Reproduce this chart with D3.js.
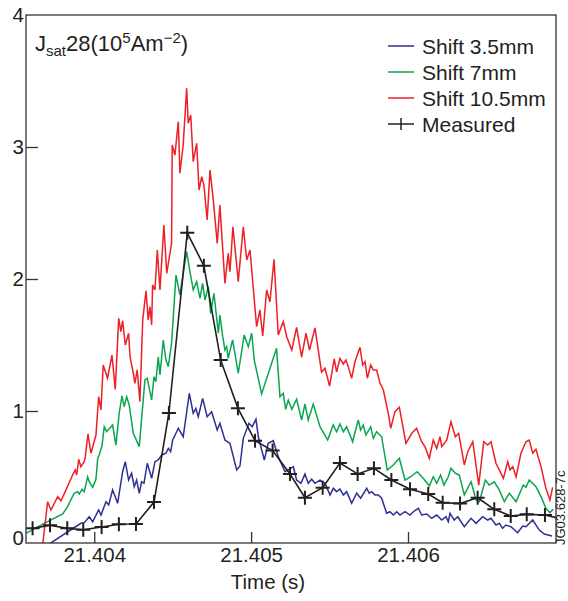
<!DOCTYPE html>
<html><head><meta charset="utf-8">
<script src="https://cdn.jsdelivr.net/npm/d3@7/dist/d3.min.js"></script>
<style>
html,body{margin:0;padding:0;background:#fff;}
svg text{font-family:"Liberation Sans",Arial,Helvetica,sans-serif;fill:#231f20;}
</style></head>
<body>
<svg id="chart" width="568" height="601"></svg>
<script>
// ---- data ----
const xTicks = [21.404, 21.405, 21.406];
const yTicks = [0, 1, 2, 3, 4];
const seriesNames = ["Shift 3.5mm", "Shift 7mm", "Shift 10.5mm", "Measured"];

const redT = [21.403671,21.403703,21.403724,21.403767,21.403788,21.403820,21.403862,21.403879,21.403888,21.403901,21.403915,21.403936,21.403943,21.403960,21.403979,21.404011,21.404028,21.404043,21.404057,21.404085,21.404113,21.404134,21.404156,21.404170,21.404181,21.404198,21.404219,21.404228,21.404249,21.404259,21.404274,21.404291,21.404309,21.404330,21.404344,21.404355,21.404366,21.404372,21.404387,21.404402,21.404419,21.404444,21.404462,21.404493,21.404497,21.404514,21.404536,21.404546,21.404567,21.404589,21.404599,21.404615,21.404631,21.404653,21.404668,21.404685,21.404699,21.404720,21.404738,21.404759,21.404784,21.404801,21.404833,21.404854,21.404865,21.404884,21.404918,21.404950,21.404972,21.404993,21.405035,21.405056,21.405074,21.405099,21.405120,21.405146,21.405173,21.405205,21.405227,21.405259,21.405290,21.405322,21.405350,21.405372,21.405407,21.405449,21.405471,21.405500,21.405530,21.405545,21.405566,21.405588,21.405605,21.405619,21.405641,21.405662,21.405694,21.405711,21.405726,21.405741,21.405762,21.405779,21.405800,21.405821,21.405843,21.405874,21.405890,21.405917,21.405945,21.405987,21.406024,21.406055,21.406087,21.406108,21.406136,21.406161,21.406183,21.406204,21.406215,21.406247,21.406274,21.406302,21.406323,21.406359,21.406381,21.406413,21.406451,21.406483,21.406508,21.406529,21.406561,21.406608,21.406636,21.406650,21.406668,21.406689,21.406720,21.406752,21.406773,21.406795,21.406816,21.406848,21.406879,21.406905,21.406922];
const redV = [-0.015,0.313,0.25,0.351,0.320,0.402,0.515,0.553,0.515,0.634,0.578,0.616,0.654,0.826,0.680,0.818,1.108,1.008,1.348,1.248,1.424,1.164,1.702,1.601,1.684,1.5,1.589,1.411,1.286,1.210,1.311,1.070,1.689,1.911,1.689,1.790,1.652,1.955,1.917,2.220,1.917,2.409,2.043,2.270,3.015,2.939,3.192,2.801,3.015,3.445,3.180,3.242,2.889,3.028,2.674,2.775,2.712,2.447,2.826,2.598,2.270,2.561,1.967,2.195,2.055,2.396,1.980,2.396,2.144,2.220,1.639,1.765,1.568,1.917,1.828,2.149,1.576,1.677,1.563,1.462,1.634,1.409,1.589,1.462,1.629,1.295,1.323,1.189,1.394,1.295,1.399,1.356,1.386,1.336,1.248,1.373,1.483,1.348,1.373,1.248,1.348,1.311,1.311,1.214,1.159,0.983,0.869,0.995,1.028,0.755,0.831,0.869,0.767,0.730,0.642,0.780,0.717,0.805,0.730,0.780,0.919,0.805,0.831,0.591,0.692,0.767,0.439,0.767,0.742,0.767,0.604,0.490,0.616,0.553,0.578,0.502,0.680,0.767,0.780,0.680,0.710,0.578,0.414,0.326,0.422];

const greenT = [21.403565,21.403681,21.403799,21.403830,21.403872,21.403894,21.403904,21.403922,21.403936,21.403958,21.403968,21.403990,21.404011,21.404022,21.404032,21.404049,21.404064,21.404079,21.404117,21.404138,21.404159,21.404177,21.404191,21.404207,21.404223,21.404249,21.404287,21.404323,21.404338,21.404366,21.404381,21.404393,21.404408,21.404419,21.404440,21.404457,21.404472,21.404493,21.404521,21.404546,21.404589,21.404610,21.404631,21.404653,21.404674,21.404691,21.404706,21.404727,21.404742,21.404763,21.404791,21.404801,21.404819,21.404833,21.404844,21.404854,21.404882,21.404918,21.404956,21.404982,21.405004,21.405020,21.405067,21.405162,21.405184,21.405205,21.405220,21.405237,21.405259,21.405290,21.405322,21.405343,21.405364,21.405396,21.405439,21.405488,21.405523,21.405545,21.405566,21.405588,21.405609,21.405647,21.405683,21.405698,21.405715,21.405732,21.405762,21.405779,21.405800,21.405832,21.405868,21.405906,21.405945,21.405981,21.406017,21.406059,21.406097,21.406136,21.406161,21.406183,21.406208,21.406229,21.406257,21.406274,21.406302,21.406327,21.406359,21.406402,21.406434,21.406455,21.406493,21.406518,21.406550,21.406582,21.406614,21.406646,21.406689,21.406735,21.406752,21.406773,21.406816,21.406848,21.406879,21.406905,21.406926];
const greenV = [0.073,0.149,0.220,0.275,0.377,0.389,0.371,0.407,0.389,0.502,0.464,0.422,0.483,0.642,0.667,0.735,0.881,0.843,0.894,0.742,0.983,1.114,1.033,1.108,1.045,0.831,0.730,1.235,1.248,1.083,1.260,1.222,1.411,1.273,1.538,1.386,1.336,1.513,2.030,1.879,2.207,2.055,1.917,1.980,1.854,1.967,1.841,1.942,1.740,1.892,1.589,1.727,1.563,1.462,1.487,1.399,1.538,1.286,1.576,1.487,1.589,1.386,1.129,1.475,1.108,1.134,1.013,1.083,1.013,1.089,0.932,1.053,0.932,1.053,0.881,0.780,0.894,0.843,0.902,0.843,0.881,0.767,0.932,0.856,0.894,0.818,0.881,0.793,0.843,0.805,0.553,0.591,0.642,0.477,0.502,0.540,0.490,0.432,0.502,0.452,0.515,0.439,0.502,0.566,0.528,0.515,0.364,0.464,0.326,0.313,0.477,0.439,0.464,0.402,0.313,0.377,0.313,0.439,0.422,0.477,0.427,0.351,0.263,0.230,0.255];

const blueT = [21.403703,21.403915,21.403936,21.403968,21.403990,21.404028,21.404043,21.404075,21.404092,21.404117,21.404134,21.404149,21.404181,21.404198,21.404219,21.404238,21.404255,21.404270,21.404287,21.404302,21.404317,21.404338,21.404366,21.404387,21.404408,21.404430,21.404457,21.404472,21.404487,21.404500,21.404536,21.404567,21.404606,21.404631,21.404648,21.404663,21.404691,21.404720,21.404748,21.404784,21.404801,21.404833,21.404865,21.404908,21.404929,21.404950,21.404986,21.405007,21.405031,21.405046,21.405084,21.405109,21.405141,21.405173,21.405216,21.405241,21.405269,21.405290,21.405318,21.405343,21.405364,21.405386,21.405407,21.405439,21.405471,21.405503,21.405524,21.405545,21.405566,21.405588,21.405609,21.405641,21.405673,21.405698,21.405737,21.405753,21.405769,21.405790,21.405811,21.405832,21.405864,21.405885,21.405906,21.405928,21.405949,21.405981,21.406013,21.406034,21.406066,21.406087,21.406119,21.406151,21.406183,21.406215,21.406242,21.406257,21.406268,21.406295,21.406317,21.406359,21.406402,21.406434,21.406476,21.406508,21.406529,21.406561,21.406582,21.406603,21.406624,21.406656,21.406699,21.406731,21.406752,21.406795,21.406837,21.406869,21.406918];
const blueV = [-0.015,0.149,0.154,0.199,0.161,0.25,0.212,0.313,0.288,0.402,0.351,0.301,0.540,0.616,0.477,0.528,0.427,0.477,0.377,0.464,0.452,0.604,0.490,0.616,0.629,0.667,0.680,0.717,0.692,0.780,0.869,0.805,1.134,0.983,1.020,0.957,1.096,0.957,0.995,0.856,0.907,0.780,0.755,0.553,0.583,0.793,0.907,0.881,0.937,0.805,0.629,0.755,0.775,0.654,0.540,0.558,0.578,0.477,0.452,0.523,0.452,0.483,0.452,0.477,0.452,0.364,0.414,0.389,0.409,0.364,0.389,0.301,0.377,0.339,0.414,0.377,0.389,0.364,0.364,0.339,0.225,0.237,0.212,0.237,0.212,0.237,0.212,0.237,0.263,0.212,0.220,0.187,0.212,0.174,0.199,0.161,0.225,0.174,0.199,0.123,0.187,0.149,0.199,0.174,0.187,0.136,0.149,0.111,0.136,0.123,0.078,0.129,0.123,0.174,0.098,0.068,0.053];

const measT = [21.403607,21.403718,21.403828,21.403930,21.404047,21.404157,21.404266,21.404381,21.404476,21.404593,21.404699,21.404806,21.404916,21.405025,21.405137,21.405248,21.405343,21.405456,21.405566,21.405679,21.405783,21.405894,21.406013,21.406129,21.406221,21.406332,21.406444,21.406550,21.406655,21.406757,21.406873,21.406985];
const measV = [0.111,0.134,0.111,0.100,0.121,0.142,0.144,0.310,0.985,2.350,2.100,1.386,1.020,0.775,0.700,0.523,0.343,0.419,0.606,0.523,0.566,0.477,0.407,0.371,0.305,0.300,0.343,0.255,0.205,0.217,0.212,0.180];

const colors = {blue:"#2b3192", green:"#0aa550", red:"#ee1f26", black:"#231f20"};

// ---- layout ----
const svg = d3.select("#chart");
const L = 26, R = 556, T = 15, B = 543;
const x = d3.scaleLinear().domain([21.403565, 21.4069435]).range([L, R]);
const y = d3.scaleLinear().domain([0, 4]).range([B, T]);

svg.append("defs").append("clipPath").attr("id","clip")
  .append("rect").attr("x",L).attr("y",T).attr("width",R-L).attr("height",B-T);

const zip = (ts, vs) => ts.map((t,i)=>[t, vs[i]]);
const line = d3.line().x(d=>x(d[0])).y(d=>y(d[1]));

const plot = svg.append("g").attr("clip-path","url(#clip)");
[[blueT,blueV,colors.blue],[greenT,greenV,colors.green],[redT,redV,colors.red]].forEach(([ts,vs,c])=>{
  plot.append("path").datum(zip(ts,vs)).attr("d",line)
    .attr("fill","none").attr("stroke",c).attr("stroke-width",1.5).attr("stroke-linejoin","miter");
});
const meas = zip(measT, measV);
plot.append("path").datum(meas).attr("d",line)
  .attr("fill","none").attr("stroke",colors.black).attr("stroke-width",1.6);
const cs = 7;
plot.selectAll("path.cross").data(meas).join("path").attr("class","cross")
  .attr("d", d=>`M${x(d[0])-cs},${y(d[1])}H${x(d[0])+cs}M${x(d[0])},${y(d[1])-cs}V${y(d[1])+cs}`)
  .attr("stroke",colors.black).attr("stroke-width",2).attr("fill","none");

// frame
svg.append("rect").attr("x",L).attr("y",T).attr("width",R-L).attr("height",B-T)
  .attr("fill","none").attr("stroke","#333").attr("stroke-width",1.3);

// axes (inward ticks)
const xAxis = d3.axisBottom(x).tickValues(xTicks).tickSize(-11).tickPadding(4).tickFormat(d3.format(".3f"));
const gx = svg.append("g").attr("transform",`translate(0,${B})`).call(xAxis);
gx.select(".domain").remove();
gx.selectAll(".tick line").attr("stroke","#333").attr("stroke-width",1.3);
gx.selectAll(".tick text").attr("font-size",20.5).attr("fill","#231f20")
  .attr("font-family","Liberation Sans, Arial, sans-serif");

const yAxis = d3.axisLeft(y).tickValues(yTicks).tickSize(-12).tickPadding(14).tickFormat(d3.format("d"));
const gy = svg.append("g").attr("transform",`translate(${L},0)`).call(yAxis);
gy.select(".domain").remove();
gy.selectAll(".tick line").attr("stroke","#333").attr("stroke-width",1.3)
  .attr("display", d => (d===0||d===4) ? "none" : null);
gy.selectAll(".tick text").attr("font-size",20.5).attr("fill","#231f20")
  .attr("font-family","Liberation Sans, Arial, sans-serif")
  .attr("dx", 12).attr("dy", d => d===0 ? "0.05em" : "0.32em");

// axis title
svg.append("text").attr("x",268).attr("y",589).attr("text-anchor","middle")
  .attr("font-size",20.5).text("Time (s)");

// chart title with sub/superscripts
const title = svg.append("text").attr("x",35).attr("y",51).attr("font-size",22);
title.append("tspan").text("J");
title.append("tspan").attr("font-size",15).attr("dy",5).text("sat");
title.append("tspan").attr("dy",-5).text("28(10");
title.append("tspan").attr("font-size",15).attr("dy",-8).text("5");
title.append("tspan").attr("dy",8).text("Am");
title.append("tspan").attr("font-size",15).attr("dy",-8).text("\u22122");
title.append("tspan").attr("dy",8).text(")");

// legend
const legColors = [colors.blue, colors.green, colors.red, colors.black];
const lg = svg.append("g");
seriesNames.forEach((name,i)=>{
  const yy = 46 + i*26;
  lg.append("line").attr("x1",388).attr("x2",414).attr("y1",yy).attr("y2",yy)
    .attr("stroke",legColors[i]).attr("stroke-width", 1.5);
  if(i===3){
    lg.append("line").attr("x1",401).attr("x2",401).attr("y1",yy-6).attr("y2",yy+6)
      .attr("stroke",colors.black).attr("stroke-width",1.5);
  }
  lg.append("text").attr("x",422).attr("y",yy+8).attr("font-size",21).text(name);
});

// figure code
svg.append("text").attr("transform","translate(565,545) rotate(-90)")
  .attr("font-size",13).text("JG03.628-7c");
</script>
</body></html>
